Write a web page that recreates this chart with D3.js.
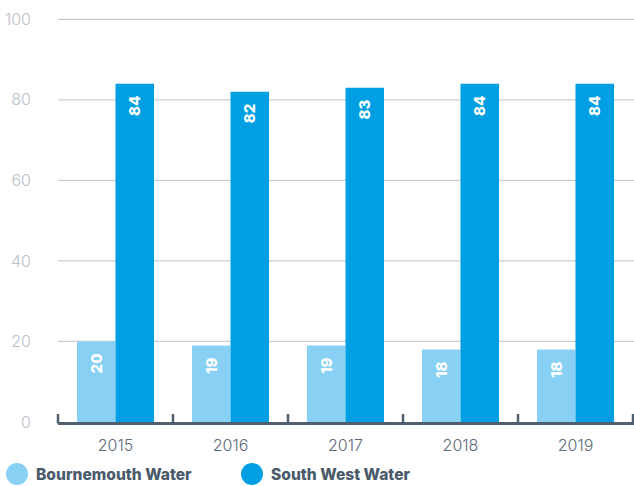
<!DOCTYPE html>
<html>
<head>
<meta charset="utf-8">
<script src="https://cdn.jsdelivr.net/npm/d3@7"></script>
<style>
  body { margin: 0; background: #fff; }
  svg { display: block; font-family: "Inter", sans-serif; }
</style>
</head>
<body>
<div id="chart"></div>
<script>
var years = ["2015", "2016", "2017", "2018", "2019"];
var bournemouth = [20, 19, 19, 18, 18];
var southWest = [84, 82, 83, 84, 84];
var seriesNames = ["Bournemouth Water", "South West Water"];
var seriesColors = ["#88d1f5", "#009fe3"];
var yTicks = [0, 20, 40, 60, 80, 100];

function init() {
    var w = 634;
    var h = 486;
    var left = 58, right = 633;
    var top = 19.3, bottom = 422;

    var svg = d3.select("#chart")
        .append("svg")
        .attr("width", w)
        .attr("height", h);

    var x = d3.scaleBand()
        .domain(years)
        .range([left, right])
        .paddingInner(0.33)
        .paddingOuter(0.165);

    var x1 = d3.scaleBand()
        .domain([0, 1])
        .range([0, x.bandwidth()]);

    var y = d3.scaleLinear()
        .domain([0, 100])
        .range([bottom, top]);

    // gridlines
    svg.append("g")
        .selectAll("line")
        .data(yTicks.slice(1))
        .enter()
        .append("line")
        .attr("x1", left)
        .attr("x2", w)
        .attr("y1", function(d) { return y(d); })
        .attr("y2", function(d) { return y(d); })
        .attr("stroke", "#c9cdd3")
        .attr("stroke-width", 1.2);

    // y labels
    svg.append("g")
        .selectAll("text")
        .data(yTicks)
        .enter()
        .append("text")
        .attr("x", 31)
        .attr("y", function(d) { return y(d); })
        .attr("dy", "0.35em")
        .attr("text-anchor", "end")
        .attr("fill", "#b9bfc7")
        .attr("font-size", 16)
        .attr("font-weight", 300)
        .text(function(d) { return d; });

    var groups = svg.append("g")
        .selectAll("g")
        .data(years)
        .enter()
        .append("g")
        .attr("transform", function(d) { return "translate(" + x(d) + ",0)"; });

    var bars = groups.selectAll("g")
        .data(function(d, i) { return [bournemouth[i], southWest[i]]; })
        .enter()
        .append("g");

    bars.append("rect")
        .attr("x", function(d, j) { return x1(j); })
        .attr("y", function(d) { return y(d); })
        .attr("width", x1.bandwidth())
        .attr("height", function(d) { return y(0) - y(d); })
        .attr("fill", function(d, j) { return seriesColors[j]; });

    bars.append("text")
        .attr("transform", function(d, j) {
            return "translate(" + (x1(j) + x1.bandwidth() / 2) + "," + (y(d) + 12) + ") rotate(-90)";
        })
        .attr("text-anchor", "end")
        .attr("dy", "0.36em")
        .attr("fill", "#fff")
        .attr("font-size", 15)
        .attr("font-weight", 800)
        .text(function(d) { return d; });

    // x axis
    var axisY = 423.5;
    var tickPos = d3.range(years.length + 1).map(function(i) { return left + i * x.step(); });
    var axis = svg.append("g");
    axis.append("line")
        .attr("x1", left)
        .attr("x2", right + 1)
        .attr("y1", axisY)
        .attr("y2", axisY)
        .attr("stroke", "#4f5f70")
        .attr("stroke-width", 3);
    axis.selectAll(".tick")
        .data(tickPos)
        .enter()
        .append("line")
        .attr("x1", function(d) { return d; })
        .attr("x2", function(d) { return d; })
        .attr("y1", 414)
        .attr("y2", axisY)
        .attr("stroke", "#4f5f70")
        .attr("stroke-width", 2.5);

    svg.append("g")
        .selectAll("text")
        .data(years)
        .enter()
        .append("text")
        .attr("x", function(d) { return x(d) + x.bandwidth() / 2; })
        .attr("y", 445)
        .attr("dy", "0.35em")
        .attr("text-anchor", "middle")
        .attr("fill", "#5d6b7a")
        .attr("font-size", 16)
        .attr("font-weight", 300)
        .text(function(d) { return d; });

    // legend
    var legendX = [17, 252];
    var legend = svg.append("g")
        .selectAll("g")
        .data(seriesNames)
        .enter()
        .append("g")
        .attr("transform", function(d, i) { return "translate(" + legendX[i] + ",474)"; });
    legend.append("circle")
        .attr("r", 11)
        .attr("fill", function(d, i) { return seriesColors[i]; });
    legend.append("text")
        .attr("x", 19)
        .attr("dy", "0.36em")
        .attr("fill", "#4a5a6b")
        .attr("font-size", 15.6)
        .attr("font-weight", 800)
        .text(function(d) { return d; });
}
window.onload = init;
</script>
</body>
</html>
